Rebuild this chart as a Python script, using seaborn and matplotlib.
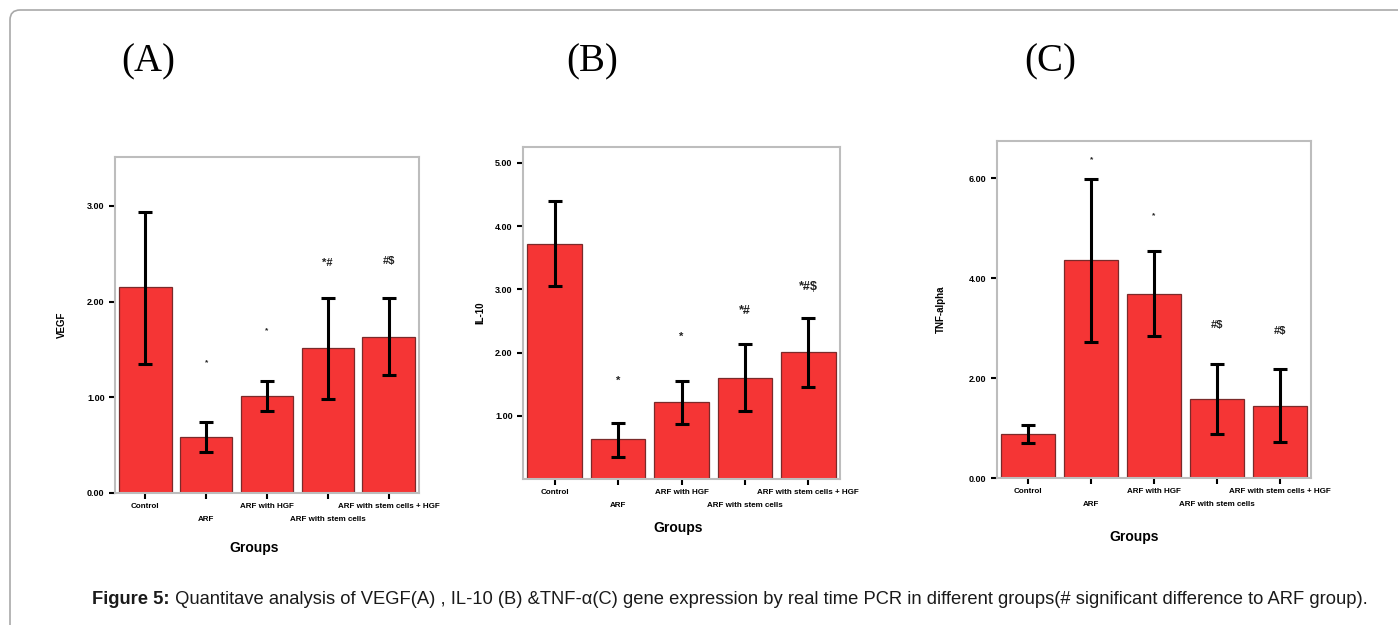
import numpy as np
import seaborn as sns
import matplotlib.pyplot as plt
from matplotlib.patches import FancyBboxPatch

groups = ["Control", "ARF", "ARF with HGF", "ARF with stem cells",
          "ARF with stem cells + HGF"]

# panel A - VEGF
vegf = [2.15, 0.59, 1.01, 1.51, 1.63]
vegf_lo = [1.35, 0.43, 0.86, 0.98, 1.23]
vegf_hi = [2.94, 0.745, 1.17, 2.04, 2.04]
vegf_sig = ["", "*", "*", "*#", "#$"]
vegf_sig_y = [0, 1.36, 1.69, 2.40, 2.42]

# panel B - IL-10
il10 = [3.72, 0.63, 1.22, 1.60, 2.01]
il10_lo = [3.05, 0.34, 0.87, 1.07, 1.46]
il10_hi = [4.40, 0.88, 1.55, 2.13, 2.55]
il10_sig = ["", "*", "*", "*#", "*#$"]
il10_sig_y = [0, 1.56, 2.25, 2.66, 3.04]

# panel C - TNF-alpha
tnf = [0.89, 4.36, 3.69, 1.58, 1.45]
tnf_lo = [0.71, 2.73, 2.85, 0.89, 0.73]
tnf_hi = [1.07, 5.98, 4.55, 2.28, 2.19]
tnf_sig = ["", "*", "*", "#$", "#$"]
tnf_sig_y = [0, 6.38, 5.25, 3.07, 2.95]

W, H = 1398, 625
fig = plt.figure(figsize=(W / 100, H / 100), dpi=100)
plt.rcParams["font.family"] = ["Liberation Sans", "DejaVu Sans"]

# rounded frame around the figure
frame = FancyBboxPatch((0.10, -1.0), 15, 7.15, boxstyle="round,pad=0,rounding_size=0.1",
                       transform=fig.dpi_scale_trans, facecolor="none",
                       edgecolor="#a9a9a9", lw=1.2)
fig.patches.append(frame)


def px_axes(left, right, top, bottom):
    return fig.add_axes([left / W, 1 - bottom / H, (right - left) / W, (bottom - top) / H])


def panel(ax, vals, lo, hi, sig, sig_y, ylabel, ylim, yticks, sig_sizes, ylab_x):
    sns.barplot(x=groups, y=vals, ax=ax, color="#f53535", edgecolor="#7a2a2a",
                linewidth=0.9, width=0.86, errorbar=None, saturation=1)
    v = np.array(vals)
    ax.errorbar(range(len(vals)), v, yerr=[v - np.array(lo), np.array(hi) - v],
                fmt="none", ecolor="black", elinewidth=2.2, capsize=5, capthick=2.2)
    for i, (s, y) in enumerate(zip(sig, sig_y)):
        if s:
            ax.text(i, y, s, ha="center", va="center", fontsize=sig_sizes[i],
                    fontweight="bold", color="#222222")
    ax.set_xlim(-0.5, 4.5)
    ax.set_ylim(*ylim)
    ax.set_yticks(yticks)
    ax.set_yticklabels([f"{t:.2f}" for t in yticks], fontsize=6.5, fontweight="bold")
    # staggered group labels: even ones on the first row, odd ones below
    ax.set_xticks([0, 2, 4])
    ax.set_xticklabels([groups[i] for i in (0, 2, 4)], fontsize=5.8, fontweight="bold")
    ax.set_xticks([1, 3], minor=True)
    ax.set_xticklabels([groups[i] for i in (1, 3)], minor=True, fontsize=5.8,
                       fontweight="bold")
    ax.tick_params(axis="both", which="both", direction="out", length=4, width=1.5,
                   color="black", pad=3.5)
    ax.tick_params(axis="x", which="minor", pad=12.5)
    for sp in ax.spines.values():
        sp.set_color("#bdbdbd")
        sp.set_linewidth(1.5)
    ax.set_xlabel("")
    ax.set_ylabel(ylabel, fontsize=7, fontweight="bold")
    ax.yaxis.set_label_coords(ylab_x, 0.5)


axA = px_axes(115, 419, 157, 493)
panel(axA, vegf, vegf_lo, vegf_hi, vegf_sig, vegf_sig_y, "VEGF", (0, 3.51),
      [0, 1, 2, 3], [0, 6, 6, 8, 8], -48 / 304)
axB = px_axes(523, 840, 147, 479)
panel(axB, il10, il10_lo, il10_hi, il10_sig, il10_sig_y, "IL-10", (0, 5.25),
      [1, 2, 3, 4, 5], [0, 8, 8, 9, 9], -38 / 317)
axC = px_axes(997, 1311, 141, 478)
panel(axC, tnf, tnf_lo, tnf_hi, tnf_sig, tnf_sig_y, "TNF-alpha", (0, 6.75),
      [0, 2, 4, 6], [0, 6, 6, 8, 8], -51 / 314)

# x axis titles
for x, y in [(254, 548), (678, 528), (1134, 537)]:
    fig.text(x / W, 1 - y / H, "Groups", ha="center", va="center",
             fontsize=10, fontweight="bold")

# panel letters
for x, lab in [(148, "(A)"), (592, "(B)"), (1050, "(C)")]:
    fig.text(x / W, 1 - 62 / H, lab, ha="center", va="center", fontsize=28,
             family="Liberation Serif")

# caption
t1 = fig.text(92 / W, 1 - 600 / H, "Figure 5:", fontsize=13.2, fontweight="bold",
              va="center", color="#1a1a1a")
fig.add_artist(plt.Annotation(
    " Quantitave analysis of VEGF(A) , IL-10 (B) &TNF-\u03b1(C) gene expression by real time PCR "
    "in different groups(# significant difference to ARF group).",
    xy=(1, 0), xycoords=t1, va="bottom", fontsize=13.2, color="#1a1a1a"))

fig.savefig("out.png", dpi=100)
